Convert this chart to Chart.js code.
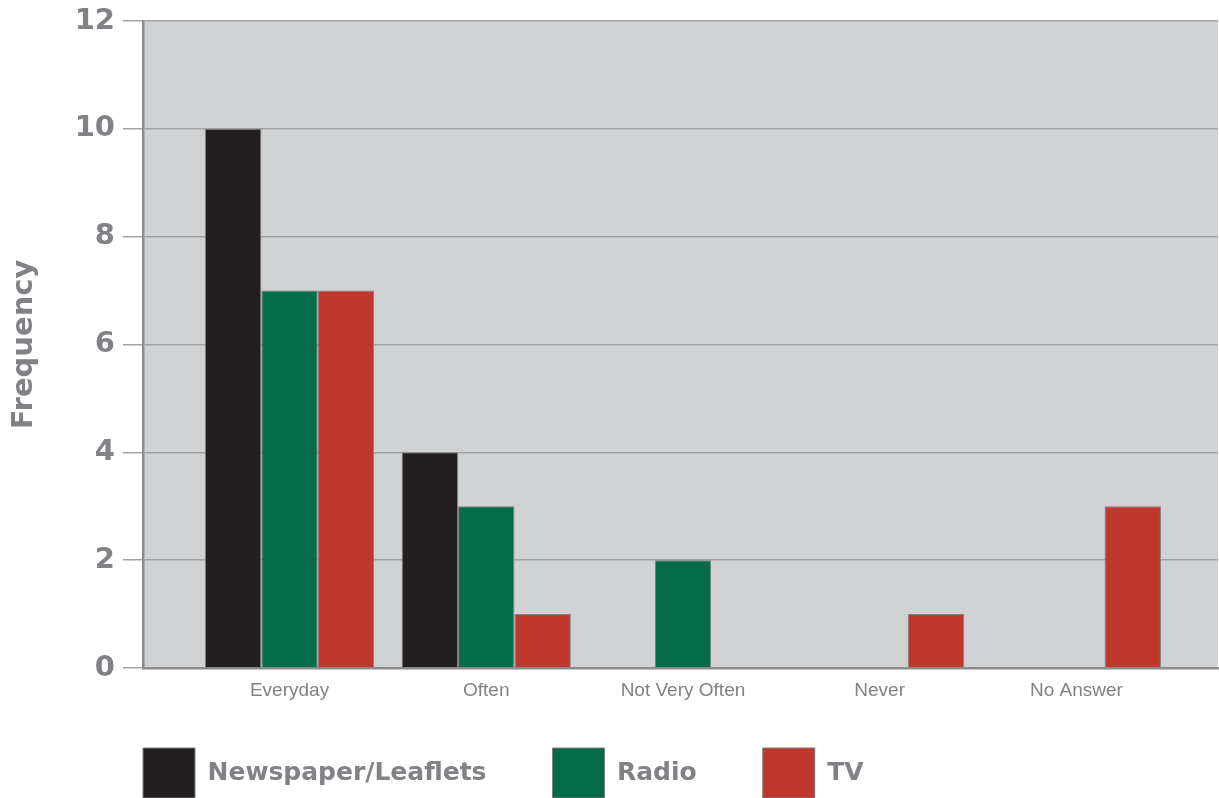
<!DOCTYPE html>
<html>
<head>
<meta charset="utf-8">
<script src="https://cdn.jsdelivr.net/npm/chart.js@4.4.1/dist/chart.umd.min.js"></script>
<style>
    html, body { margin: 0; padding: 0; background: #ffffff; }
    #wrap { width: 1219px; height: 798px; }
</style>
</head>
<body>
<div id="wrap"><canvas id="freqChart" width="1219" height="798"></canvas></div>
<script>
// Categories and series
const categories = ['Everyday', 'Often', 'Not Very Often', 'Never', 'No Answer'];
const newspaper = [10, 4, 0, 0, 0];
const radio = [7, 3, 2, 0, 0];
const tv = [7, 1, 0, 1, 3];
const yTicks = [0, 2, 4, 6, 8, 10, 12];

const GREY_TEXT = '#808285';
const LEGEND_GAP = 66;

// Gray plot background
const plotBackground = {
    id: 'plotBackground',
    beforeDraw(chart) {
        const { ctx, chartArea: a } = chart;
        ctx.save();
        ctx.fillStyle = '#d1d2d4';
        ctx.fillRect(a.left, a.top, a.right - a.left, a.bottom - a.top);
        ctx.restore();
    }
};

// Line the legend up with the plot's left edge, a little below the axis labels
const legendAlign = {
    id: 'legendAlign',
    afterLayout(chart) {
        if (!chart.legend) return;
        chart.legend.left = chart.chartArea.left - LEGEND_GAP;
        chart.legend.top = chart.chartArea.bottom + 80 - LEGEND_GAP;
    }
};

const toPoints = arr => arr.map((v, i) => ({ x: i, y: v }));

new Chart(document.getElementById('freqChart'), {
    type: 'bar',
    data: {
        datasets: [
            { label: 'Newspaper/Leaflets', data: toPoints(newspaper), backgroundColor: '#231f20' },
            { label: 'Radio', data: toPoints(radio), backgroundColor: '#066b49' },
            { label: 'TV', data: toPoints(tv), backgroundColor: '#c0372e' }
        ]
    },
    options: {
        responsive: false,
        animation: false,
        layout: { padding: { top: 21, right: 1, bottom: -34, left: 0 } },
        datasets: {
            bar: {
                categoryPercentage: 0.86,
                barPercentage: 1.0,
                borderColor: '#7f7f80',
                borderWidth: 1
            }
        },
        plugins: {
            tooltip: { enabled: false },
            legend: {
                position: 'bottom',
                align: 'start',
                labels: {
                    boxWidth: 52,
                    boxHeight: 50,
                    padding: LEGEND_GAP,
                    color: GREY_TEXT,
                    font: { family: 'DejaVu Sans', size: 25, weight: 'bold' }
                }
            }
        },
        scales: {
            x: {
                type: 'linear',
                offset: false,
                min: -0.745,
                max: 4.72,
                afterBuildTicks: scale => {
                    scale.ticks = scale.ticks.filter(t => Number.isInteger(t.value));
                },
                afterFit: scale => {
                    scale.height = 38;
                    scale.paddingLeft = 0;
                    scale.paddingRight = 0;
                },
                ticks: {
                    stepSize: 1,
                    padding: 11,
                    color: GREY_TEXT,
                    font: { family: 'Liberation Sans', size: 19 },
                    callback: v => categories[v]
                },
                grid: { offset: false, drawOnChartArea: false, drawTicks: false },
                border: { display: true, color: '#8b8c8e', width: 2.5 }
            },
            y: {
                min: 0,
                max: 12,
                afterBuildTicks: scale => {
                    scale.ticks = yTicks.map(v => ({ value: v }));
                },
                afterFit: scale => {
                    scale.width = 143;
                    scale.paddingTop = 0;
                    scale.paddingBottom = 0;
                },
                ticks: {
                    padding: 8,
                    color: GREY_TEXT,
                    font: { family: 'DejaVu Sans', size: 29, weight: 'bold' }
                },
                grid: { color: '#a2a3a5', lineWidth: 1.5, tickLength: 20 },
                border: { display: true, color: '#8b8c8e', width: 2.5 },
                title: {
                    display: true,
                    text: 'Frequency',
                    color: GREY_TEXT,
                    padding: { top: 7, bottom: 0 },
                    font: { family: 'DejaVu Sans', size: 29, weight: 'bold' }
                }
            }
        }
    },
    plugins: [plotBackground, legendAlign]
});
</script>
</body>
</html>
